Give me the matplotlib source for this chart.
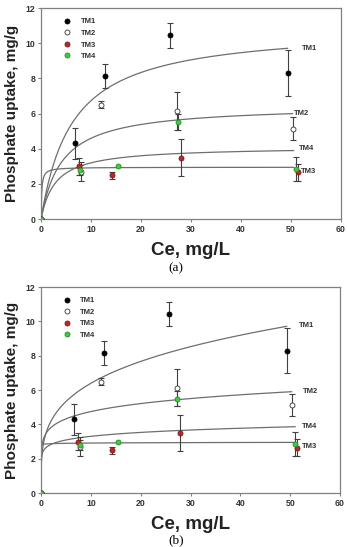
import numpy as np
import matplotlib.pyplot as plt

plt.rcParams['font.family'] = ['Liberation Sans', 'DejaVu Sans']

series = ["TM1", "TM2", "TM3", "TM4"]

# measured points (Ce, uptake, error)
ce = {
    "TM1": [0, 6.7, 12.7, 25.7, 49.3],
    "TM2": [0, 7.9, 12.0, 27.2, 50.3],
    "TM3": [0, 7.5, 14.2, 27.9, 51.3],
    "TM4": [0, 7.8, 15.4, 27.3, 51.0],
}
qe = {
    "TM1": [0, 4.3, 8.15, 10.45, 8.3],
    "TM2": [0, 2.7, 6.5, 6.15, 5.15],
    "TM3": [0, 3.0, 2.5, 3.5, 2.65],
    "TM4": [0, 2.8, 3.0, 5.5, 2.85],
}
err = {
    "TM1": [0, 0.9, 0.7, 0.7, 1.3],
    "TM2": [0, 0.55, 0.2, 1.1, 0.65],
    "TM3": [0, 0.5, 0.2, 1.05, 0.5],
    "TM4": [0, 0.3, 0.0, 0.45, 0.7],
}

# fitted isotherm parameters
langmuir_qm = {"TM1": 10.95, "TM2": 6.49, "TM3": 2.95, "TM4": 4.12}
langmuir_k = {"TM1": 0.16, "TM2": 0.243, "TM3": 8.0, "TM4": 0.347}
freund_kf = {"TM1": 3.50, "TM2": 3.48, "TM3": 2.86, "TM4": 2.65}
freund_n = {"TM1": 0.262, "TM2": 0.135, "TM3": 0.008, "TM4": 0.096}
curve_end_a = {"TM1": 49.3, "TM2": 50.3, "TM3": 50.5, "TM4": 50.5}
curve_end_b = {"TM1": 49.3, "TM2": 50.3, "TM3": 51.0, "TM4": 51.0}

# label positions for curve names
label_a = {"TM1": (52.1, 9.72), "TM2": (50.6, 6.0), "TM3": (52.0, 2.73), "TM4": (51.5, 4.0)}
label_b = {"TM1": (51.8, 9.77), "TM2": (52.6, 5.9), "TM3": (52.4, 2.7), "TM4": (52.4, 3.87)}

styles = {
    "TM1": dict(mfc="black", mec="black"),
    "TM2": dict(mfc="white", mec="#333333"),
    "TM3": dict(mfc="#c0242a", mec="#7a1515"),
    "TM4": dict(mfc="#3ccc3c", mec="#2a8a2a"),
}

fig = plt.figure(figsize=(3.48, 5.47), dpi=100)
ax_a = fig.add_axes([0.118, 0.5996, 0.862, 0.3854])
ax_b = fig.add_axes([0.118, 0.0987, 0.859, 0.3763])

def style_axes(ax):
    ax.set_xlim(0, 60)
    ax.set_ylim(0, 12)
    ax.set_xticks(range(0, 61, 10))
    ax.set_yticks(range(0, 13, 2))
    for s in ax.spines.values():
        s.set_color("#808080")
        s.set_linewidth(0.9)
    ax.tick_params(direction="out", length=2.5, width=0.8, color="#808080",
                   labelsize=6.3, pad=1.5, labelcolor="#333333")
    for lab in ax.get_xticklabels() + ax.get_yticklabels():
        lab.set_fontweight("bold")
    ax.set_xlabel("Ce, mg/L", fontsize=13.5, fontweight="bold", labelpad=6, color="#222222")
    ax.set_ylabel("Phosphate uptake, mg/g", fontsize=11, fontweight="bold", labelpad=5, color="#222222")

for ax, kind in [(ax_a, "a"), (ax_b, "b")]:
    for name in series:
        if kind == "a":
            c = np.linspace(0, curve_end_a[name], 400)
            k = langmuir_k[name]
            q = langmuir_qm[name] * k * c / (1 + k * c)
            lx, ly = label_a[name]
        else:
            c = np.concatenate([[0], np.geomspace(1e-3, curve_end_b[name], 400)])
            q = freund_kf[name] * c ** freund_n[name]
            q[0] = 0
            lx, ly = label_b[name]
        ax.plot(c, q, color="#6e6e6e", lw=0.9, zorder=2)
        ax.text(lx, ly, name, fontsize=5.5, fontweight="bold", color="#333333",
                va="center", ha="left")
    for name in series:
        e = np.array(err[name])
        ax.errorbar(ce[name], qe[name], yerr=np.where(e > 0, e, np.nan),
                    fmt="none", ecolor="#404040", elinewidth=0.8, capsize=2,
                    capthick=0.8, zorder=3)
        ax.plot(ce[name], qe[name], "o", ms=3.6, mew=0.6, label=name,
                zorder=4, **styles[name])
    style_axes(ax)
    leg = ax.legend(loc="upper left", bbox_to_anchor=(0.055, 0.975), frameon=False,
                    fontsize=5.5, handlelength=1.2, handletextpad=1.2,
                    labelspacing=0.55, borderaxespad=0.2)
    for t in leg.get_texts():
        t.set_fontweight("bold")
        t.set_color("#333333")

fig.text(0.506, 0.510, "(a)", fontsize=9.5, family=["Liberation Serif", "DejaVu Serif"],
         ha="center", va="center")
fig.text(0.506, 0.012, "(b)", fontsize=9.5, family=["Liberation Serif", "DejaVu Serif"],
         ha="center", va="center")

fig.savefig("out.png", dpi=100)
